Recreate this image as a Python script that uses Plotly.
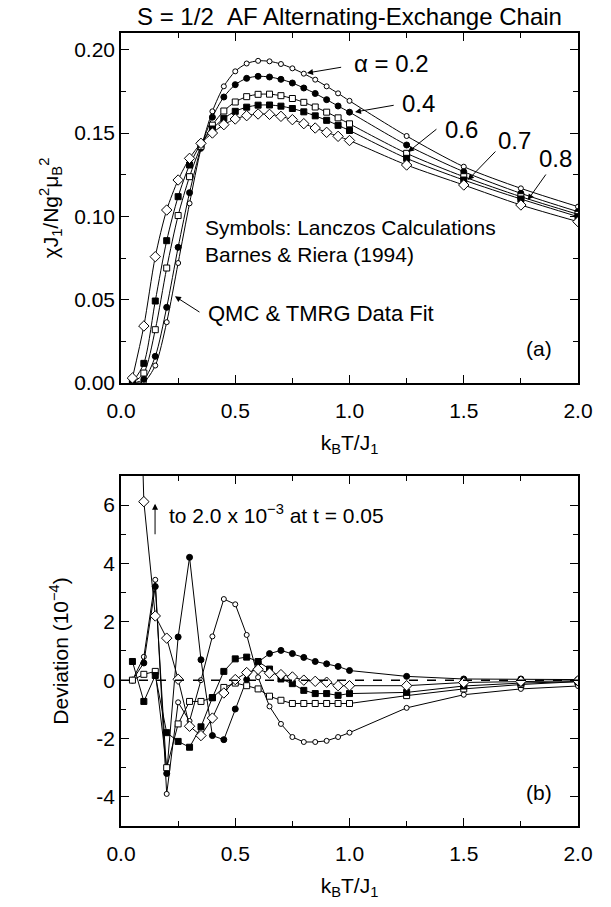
import plotly.graph_objects as go

# Reduced temperature kB*T/J1 at which the Lanczos results are available
t_vals = [0.05, 0.10, 0.15, 0.20, 0.25, 0.30, 0.35, 0.40, 0.45, 0.50,
          0.55, 0.60, 0.65, 0.70, 0.75, 0.80, 0.85, 0.90, 0.95, 1.00,
          1.25, 1.50, 1.75, 2.00]

alphas = ["0.2", "0.4", "0.6", "0.7", "0.8"]

# chi*J1/(N g^2 muB^2) for each alternation parameter alpha
chi_a02 = [0.0000, 0.0007, 0.0105, 0.0365, 0.0720, 0.1078, 0.1405, 0.1630, 0.1780, 0.1870,
           0.1917, 0.1933, 0.1930, 0.1914, 0.1888, 0.1856, 0.1820, 0.1780, 0.1738, 0.1693,
           0.1482, 0.1298, 0.1168, 0.1058]
chi_a04 = [0.0000, 0.0022, 0.0160, 0.0454, 0.0814, 0.1142, 0.1412, 0.1595, 0.1716, 0.1790,
           0.1828, 0.1840, 0.1836, 0.1822, 0.1800, 0.1770, 0.1737, 0.1700, 0.1662, 0.1625,
           0.1428, 0.1268, 0.1138, 0.1028]
chi_a06 = [0.0001, 0.0060, 0.0320, 0.0690, 0.1005, 0.1238, 0.1420, 0.1547, 0.1632, 0.1686,
           0.1718, 0.1732, 0.1733, 0.1724, 0.1707, 0.1684, 0.1656, 0.1625, 0.1591, 0.1555,
           0.1378, 0.1238, 0.1118, 0.1012]
chi_a07 = [0.0003, 0.0118, 0.0492, 0.0854, 0.1118, 0.1308, 0.1435, 0.1524, 0.1588, 0.1630,
           0.1655, 0.1667, 0.1668, 0.1661, 0.1647, 0.1627, 0.1603, 0.1576, 0.1546, 0.1515,
           0.1348, 0.1218, 0.1104, 0.0998]
chi_a08 = [0.0030, 0.0342, 0.0758, 0.1038, 0.1218, 0.1348, 0.1438, 0.1500, 0.1550, 0.1584,
           0.1604, 0.1614, 0.1612, 0.1600, 0.1580, 0.1556, 0.1530, 0.1504, 0.1480, 0.1455,
           0.1308, 0.1188, 0.1068, 0.0968]

# Deviation of fit from Lanczos data, in units of 1e-4
dev_a02 = [0.0, 0.8, 3.44, -3.9, -0.76, -1.4, 0.0, 1.5, 2.78, 2.6,
           1.55, 0.1, -0.9, -1.5, -1.95, -2.12, -2.12, -2.08, -1.95, -1.8,
           -0.95, -0.5, -0.3, -0.2]
dev_a04 = [0.0, 0.59, 3.21, -3.2, 1.48, 4.21, 0.70, -1.9, -2.04, -0.99,
           0.02, 0.62, 0.91, 1.02, 0.91, 0.78, 0.64, 0.56, 0.47, 0.33,
           0.13, 0.04, 0.04, 0.02]
dev_a06 = [0.0, 0.2, 0.3, -3.0, -1.5, -0.73, -0.73, -0.6, -0.25, -0.1,
           -0.19, -0.3, -0.55, -0.69, -0.8, -0.8, -0.8, -0.8, -0.8, -0.8,
           -0.53, -0.3, -0.15, -0.05]
dev_a07 = [0.64, -0.73, 0.16, -1.8, -2.1, -2.3, -1.6, -0.6, 0.3, 0.73,
           0.79, 0.64, 0.38, 0.04, -0.12, -0.35, -0.46, -0.46, -0.52, -0.46,
           -0.42, -0.2, -0.1, -0.05]
dev_a08 = [20.0, 6.12, 2.2, 1.44, 0.03, -1.58, -1.9, -1.3, -0.44, 0.02,
           0.26, 0.37, 0.24, 0.19, 0.11, 0.0, -0.04, -0.07, -0.19, -0.19,
           -0.19, -0.08, -0.04, -0.02]

x_ticks = [0.0, 0.5, 1.0, 1.5, 2.0]
x_ticklabels = ["0.0", "0.5", "1.0", "1.5", "2.0"]
chi_ticks = [0.00, 0.05, 0.10, 0.15, 0.20]
chi_ticklabels = ["0.00", "0.05", "0.10", "0.15", "0.20"]
dev_ticks = [-4, -2, 0, 2, 4, 6]
dev_ticklabels = ["-4", "-2", "0", "2", "4", "6"]

chi_series = [chi_a02, chi_a04, chi_a06, chi_a07, chi_a08]
dev_series = [dev_a02, dev_a04, dev_a06, dev_a07, dev_a08]

FONT = "Liberation Sans, Arial, Helvetica, sans-serif"
BLACK = "#000000"
TICK_SIZE = 21
TEXT_SIZE = 21

# marker look per alpha: (symbol, size)
marker_styles = [
    ("circle-open", 5),
    ("circle", 6),
    ("square-open", 6),
    ("square", 6),
    ("diamond-open", 8),
]

fig = go.Figure()

for a, chi, dev, (sym, size) in zip(alphas, chi_series, dev_series, marker_styles):
    filled = not sym.endswith("open")
    mk = dict(symbol=sym.replace("-open", ""), size=size,
              color=BLACK if filled else "white",
              line=dict(color=BLACK, width=1))
    fig.add_trace(go.Scatter(
        x=t_vals, y=chi, mode="lines+markers", name=f"alpha={a}",
        line=dict(color=BLACK, width=1, shape="spline", smoothing=0.8),
        marker=mk, xaxis="x", yaxis="y", showlegend=False))
    fig.add_trace(go.Scatter(
        x=t_vals, y=dev, mode="lines+markers", name=f"dev alpha={a}",
        line=dict(color=BLACK, width=1),
        marker=mk, xaxis="x2", yaxis="y2", showlegend=False))

# dashed zero line of the deviation panel
fig.add_trace(go.Scatter(x=[0.0, 2.0], y=[0, 0], mode="lines",
                         line=dict(color=BLACK, width=1.5, dash="dash"),
                         xaxis="x2", yaxis="y2", showlegend=False))

axis_common = dict(
    showline=True, linecolor=BLACK, linewidth=1.5, mirror="ticks",
    ticks="inside", ticklen=8, tickwidth=1, tickcolor=BLACK,
    showgrid=False, zeroline=False,
    tickfont=dict(family=FONT, size=TICK_SIZE, color=BLACK),
    automargin=False,
)

fig.update_layout(
    width=611, height=907,
    margin=dict(l=121, r=33, t=33, b=81),
    plot_bgcolor="white", paper_bgcolor="white",
    font=dict(family=FONT, size=TEXT_SIZE, color=BLACK),
    xaxis=dict(axis_common, range=[0, 2], domain=[0, 1], anchor="y",
               tickvals=x_ticks, ticktext=x_ticklabels, ticklabelstandoff=8,
               minor=dict(dtick=0.25, ticks="inside", ticklen=5, tickcolor=BLACK),
               title=dict(text="k<sub>B</sub>T/J<sub>1</sub>", standoff=14,
                          font=dict(family=FONT, size=TEXT_SIZE))),
    yaxis=dict(axis_common, range=[0, 0.21], domain=[0.5586, 1.0], anchor="x",
               tickvals=chi_ticks, ticktext=chi_ticklabels,
               minor=dict(dtick=0.025, ticks="inside", ticklen=5, tickcolor=BLACK),
               title=dict(text="χJ<sub>1</sub>/Ng<sup>2</sup>μ<sub>B</sub><sup>2</sup>",
                          standoff=10, font=dict(family=FONT, size=TEXT_SIZE))),
    xaxis2=dict(axis_common, range=[0, 2], domain=[0, 1], anchor="y2",
                tickvals=x_ticks, ticktext=x_ticklabels, ticklabelstandoff=8,
                minor=dict(dtick=0.25, ticks="inside", ticklen=5, tickcolor=BLACK),
                title=dict(text="k<sub>B</sub>T/J<sub>1</sub>", standoff=14,
                           font=dict(family=FONT, size=TEXT_SIZE))),
    yaxis2=dict(axis_common, range=[-5, 7], domain=[0.0, 0.4414], anchor="x2",
                tickvals=dev_ticks, ticktext=dev_ticklabels,
                minor=dict(dtick=1, ticks="inside", ticklen=5, tickcolor=BLACK),
                title=dict(text="Deviation (10<sup>−4</sup>)", standoff=22,
                           font=dict(family=FONT, size=TEXT_SIZE))),
)

ann = []
# panel title
ann.append(dict(text="S = 1/2 &nbsp;AF Alternating-Exchange Chain", xref="paper", yref="paper",
                x=0.5, y=1.0, yshift=1, xanchor="center", yanchor="bottom", showarrow=False,
                font=dict(family=FONT, size=24)))

# alpha labels with arrows pointing to the curves
alpha_labels = [
    ("α = 0.2", 1.01, 0.192, 0.814, 0.186, 0.97, 0.1896),
    ("0.4", 1.30, 0.168, 1.024, 0.1626, 1.20, 0.1668),
    ("0.6", 1.49, 0.152, 1.256, 0.1386, 1.387, 0.153),
    ("0.7", 1.72, 0.1458, 1.518, 0.1218, 1.645, 0.1398),
    ("0.8", 1.90, 0.135, 1.78, 0.1098, 1.864, 0.126),
]
for i, (txt, tx, ty, hx, hy, sx, sy) in enumerate(alpha_labels):
    ann.append(dict(text=txt, x=tx, y=ty, xref="x", yref="y", showarrow=False,
                    xanchor="left" if i == 0 else "center", yanchor="middle",
                    font=dict(family=FONT, size=24)))
    ann.append(dict(text="", x=hx, y=hy, ax=sx, ay=sy, xref="x", yref="y",
                    axref="x", ayref="y", showarrow=True, arrowhead=2,
                    arrowsize=1.2, arrowwidth=1, arrowcolor=BLACK))

ann.append(dict(text="Symbols: Lanczos Calculations<br>Barnes &amp; Riera (1994)",
                x=0.36, y=0.085, xref="x", yref="y", xanchor="left", yanchor="middle",
                align="left", showarrow=False, font=dict(family=FONT, size=TEXT_SIZE)))
ann.append(dict(text="QMC &amp; TMRG Data Fit", x=0.37, y=0.042, xref="x", yref="y",
                xanchor="left", yanchor="middle", showarrow=False,
                font=dict(family=FONT, size=22)))
ann.append(dict(text="", x=0.236, y=0.052, ax=0.35, ay=0.042, xref="x", yref="y",
                axref="x", ayref="y", showarrow=True, arrowhead=2, arrowsize=1.2,
                arrowwidth=1, arrowcolor=BLACK))
ann.append(dict(text="(a)", x=1.83, y=0.021, xref="x", yref="y", showarrow=False,
                font=dict(family=FONT, size=TEXT_SIZE)))

# bottom panel notes
ann.append(dict(text="", x=0.149, y=6.05, ax=0.149, ay=4.95, xref="x2", yref="y2",
                axref="x2", ayref="y2", showarrow=True, arrowhead=2, arrowsize=1.2,
                arrowwidth=1, arrowcolor=BLACK))
ann.append(dict(text="to 2.0 x 10<sup>−3</sup> at t = 0.05", x=0.2, y=5.7,
                xref="x2", yref="y2", xanchor="left", yanchor="middle", showarrow=False,
                font=dict(family=FONT, size=TEXT_SIZE)))
ann.append(dict(text="(b)", x=1.83, y=-3.85, xref="x2", yref="y2", showarrow=False,
                font=dict(family=FONT, size=TEXT_SIZE)))

fig.update_layout(annotations=ann)

fig.write_html("out.html")
